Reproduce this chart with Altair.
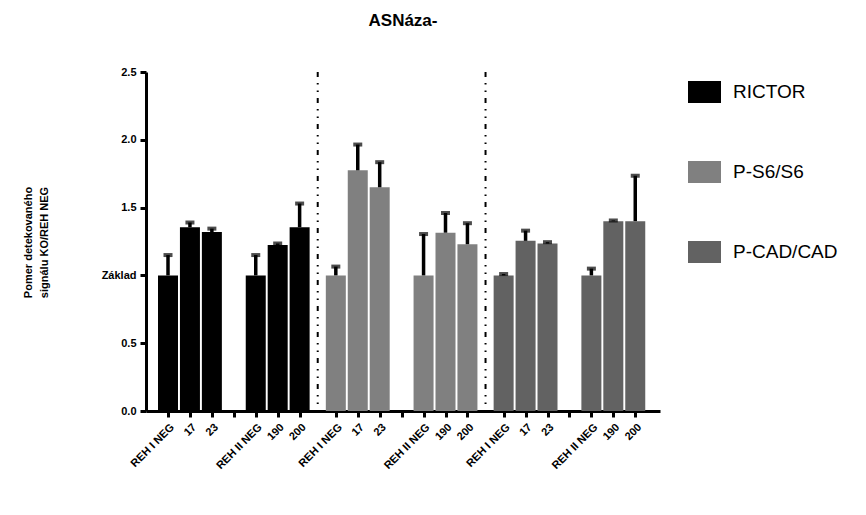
import json
import altair as alt
import pandas as pd

# ---- data ----
groups = ["RICTOR", "P-S6/S6", "P-CAD/CAD"]
samples = ["REH I NEG", "17", "23", "REH II NEG", "190", "200"]
tick_labels = ["REH I NEG", "17", "23", "", "REH II NEG", "190", "200"]

rictor_mean = [1.0, 1.355, 1.32, 1.0, 1.225, 1.355]
rictor_err = [0.15, 0.035, 0.025, 0.15, 0.01, 0.175]
ps6_mean = [1.0, 1.775, 1.65, 1.0, 1.315, 1.23]
ps6_err = [0.065, 0.19, 0.185, 0.305, 0.145, 0.155]
cad_mean = [1.0, 1.255, 1.235, 1.0, 1.40, 1.40]
cad_err = [0.01, 0.075, 0.01, 0.05, 0.005, 0.335]

y_ticks = [0.0, 0.5, 1.0, 1.5, 2.0, 2.5]
baseline_label = "Základ"
title_text = "ASNáza-"
y_title = ["Pomer detekovaného", "signálu KO/REH NEG"]

colors = ["#000000", "#808080", "#626262"]

SLOT = 20
GROUP_STEP = 153

means = [rictor_mean, ps6_mean, cad_mean]
errs = [rictor_err, ps6_err, cad_err]

rows = []
for g, grp in enumerate(groups):
    for k, s in enumerate(samples):
        slot = tick_labels.index(s)
        m = means[g][k]
        e = errs[g][k]
        rows.append({"group": grp, "sample": s,
                     "pos": g * GROUP_STEP + slot * SLOT,
                     "mean": m, "top": m + e})
df = pd.DataFrame(rows)

tick_values = [g * GROUP_STEP + i * SLOT for g in range(len(groups)) for i in range(len(tick_labels))]
sep_df = pd.DataFrame({"pos": [g * GROUP_STEP + 6 * SLOT + (GROUP_STEP - 6 * SLOT) / 2 for g in range(len(groups) - 1)]})

FONT = "Liberation Sans"

x_label_expr = f"{json.dumps(tick_labels)}[round((datum.value % {GROUP_STEP}) / {SLOT})]"
y_label_expr = f"datum.value == 1 ? '{baseline_label}' : format(datum.value, '.1f')"

x_scale = alt.Scale(domain=[-15.5, 444], nice=False, zero=False)
x_axis = alt.Axis(
    values=tick_values, labelExpr=x_label_expr, labelAngle=-45,
    labelFont=FONT, labelFontSize=11, labelFontWeight="bold", labelColor="black",
    labelOverlap=False, labelFlush=False, labelPadding=4,
    domainWidth=3, domainColor="black", tickWidth=3, tickColor="black", tickSize=6,
    grid=False, title=None,
)
y_scale = alt.Scale(domain=[0, 2.5], nice=False)
y_axis = alt.Axis(
    values=y_ticks, labelExpr=y_label_expr,
    labelFont=FONT, labelFontSize=11, labelFontWeight="bold", labelColor="black",
    labelPadding=4, labelOverlap=False,
    domainWidth=3, domainColor="black", tickWidth=3, tickColor="black", tickSize=6,
    grid=False,
    title=y_title, titleFont=FONT, titleFontSize=11, titleFontWeight="bold",
    titleColor="black", titleAngle=-90, titleX=-124, titleY=170,
    titleAlign="center", titleBaseline="top", titleLineHeight=16,
)

bars = alt.Chart(df).mark_bar(size=20).encode(
    x=alt.X("pos:Q", scale=x_scale, axis=x_axis),
    y=alt.Y("mean:Q", scale=y_scale, axis=y_axis),
    color=alt.Color(
        "group:N",
        scale=alt.Scale(domain=groups, range=colors),
        legend=alt.Legend(
            title=None, orient="none", legendX=542, legendY=3.5,
            symbolType="M-1,-0.667L1,-0.667L1,0.667L-1,0.667Z",
            symbolSize=1089, symbolStrokeWidth=0, symbolOpacity=1,
            labelFont=FONT, labelFontSize=19, labelColor="black",
            labelOffset=12, rowPadding=52, padding=0,
        ),
    ),
)

stems = alt.Chart(df).mark_rule(color="black", strokeWidth=3.5).encode(
    x=alt.X("pos:Q", scale=x_scale, axis=x_axis),
    y=alt.Y("mean:Q", scale=y_scale, axis=y_axis),
    y2="top:Q",
)
caps = alt.Chart(df).mark_tick(orient="horizontal", color="black", size=9, thickness=4).encode(
    x=alt.X("pos:Q", scale=x_scale, axis=x_axis),
    y=alt.Y("top:Q", scale=y_scale, axis=y_axis),
)
seps = alt.Chart(sep_df).mark_rule(color="black", strokeWidth=2, strokeDash=[5, 6, 1.5, 6, 1.5, 6]).encode(
    x=alt.X("pos:Q", scale=x_scale, axis=x_axis),
    y=alt.value(0),
    y2=alt.value(339),
)

chart = alt.layer(seps, bars, stems, caps).properties(
    width=514, height=339,
    title=alt.Title(title_text, font=FONT, fontSize=17, fontWeight="bold", color="black",
                    anchor="middle", offset=36),
    autosize=alt.AutoSizeParams(type="none"),
    padding={"left": 146, "top": 72, "right": 206, "bottom": 104},
).configure(background="white").configure_view(
    stroke=None, strokeWidth=0
).configure_axis(labelOverlap=False, grid=False, domainColor="black", tickColor="black")

chart.save("out.html", embed_options={"renderer": "svg", "actions": False})
